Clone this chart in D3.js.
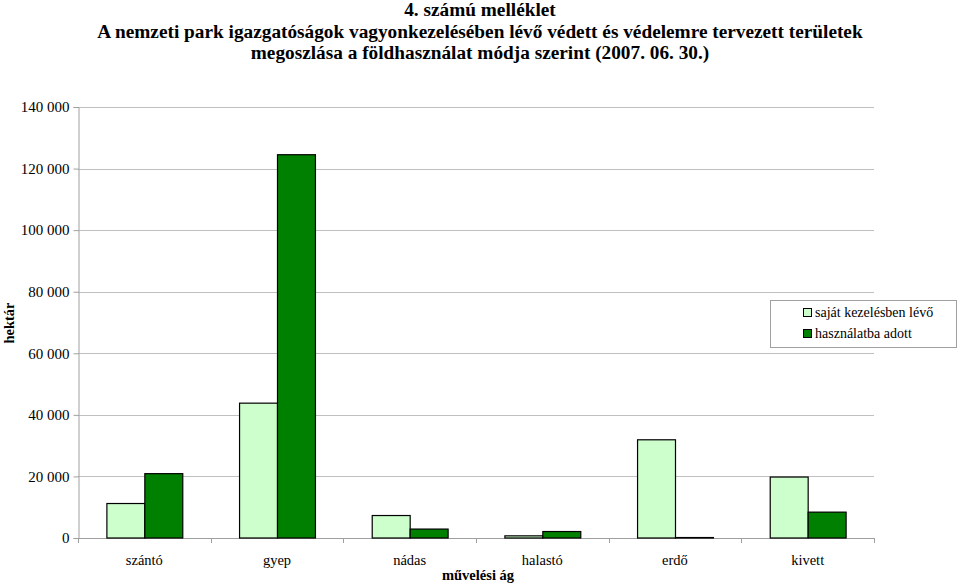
<!DOCTYPE html>
<html><head><meta charset="utf-8">
<script src="https://cdn.jsdelivr.net/npm/d3@7"></script>
<style>body{margin:0;background:#fff;} svg{display:block;} svg text{font-family:"Liberation Serif","Tinos","Times New Roman","DejaVu Serif",serif;}</style>
</head><body>
<svg id="c" width="959" height="585"></svg>
<script>
const titleLines = ["4. számú melléklet",
  "A nemzeti park igazgatóságok vagyonkezelésében lévő védett és védelemre tervezett területek",
  "megoszlása a földhasználat módja szerint (2007. 06. 30.)"];
const categories = ["szántó","gyep","nádas","halastó","erdő","kivett"];
const seriesNames = ["saját kezelésben lévő","használatba adott"];
const ownValues = [11200, 43800, 7300, 700, 31900, 19800];
const leasedValues = [20900, 124500, 2900, 2100, 150, 8400];
const yTicks = [0,20000,40000,60000,80000,100000,120000,140000];
const colors = ["#ccffcc","#008000"];
const yTitle = "hektár", xTitle = "művelési ág";

const svg = d3.select("#c");
const m = {l:78, r:874, t:107, b:538};
const x = d3.scaleBand().domain(categories).range([m.l, m.r]);
const y = d3.scaleLinear().domain([0,140000]).range([m.b, m.t]);
const fmt = v => d3.format(",")(v).replace(/,/g, "\u00a0");

// title
svg.append("g").selectAll("text").data(titleLines).join("text")
  .attr("x", 480).attr("y", (d,i)=>16+i*21.5).attr("text-anchor","middle")
  .attr("font-weight","bold").attr("font-size", 19.3)
  .text(d=>d);

// gridlines
svg.append("g").selectAll("line").data(yTicks.slice(1)).join("line")
  .attr("x1", m.l).attr("x2", m.r).attr("y1", d=>Math.round(y(d))+0.5).attr("y2", d=>Math.round(y(d))+0.5)
  .attr("stroke","#c0c0c0").attr("stroke-width",1);

// y axis
const ya = d3.axisLeft(y).tickValues(yTicks).tickFormat(fmt).tickSize(5).tickPadding(4);
const yg = svg.append("g").attr("transform",`translate(${m.l+0.5},0)`).call(ya);
yg.attr("font-family", null);
yg.select(".domain").attr("stroke","#a0a0a0");
yg.selectAll(".tick line").attr("stroke","#a0a0a0");
yg.selectAll(".tick text").attr("font-size",15).attr("fill","#000");

// x axis
const xa = svg.append("g");
xa.append("line").attr("x1",m.l).attr("x2",m.r).attr("y1",m.b+0.5).attr("y2",m.b+0.5).attr("stroke","#a0a0a0");
xa.selectAll("line.t").data(d3.range(categories.length+1)).join("line").attr("class","t")
  .attr("x1",i=>Math.round(m.l+i*x.step())+0.5).attr("x2",i=>Math.round(m.l+i*x.step())+0.5)
  .attr("y1",m.b).attr("y2",m.b+5).attr("stroke","#a0a0a0");
xa.selectAll("text").data(categories).join("text")
  .attr("x",d=>x(d)+x.bandwidth()/2).attr("y",565).attr("text-anchor","middle")
  .attr("font-size",14.5).text(d=>d);

// bars
const gw = x.bandwidth()*0.572, bw = gw/2;
const series = [ownValues, leasedValues];
series.forEach((vals,si)=>{
  svg.append("g").selectAll("rect").data(categories).join("rect")
    .attr("x",(d,i)=>x(d)+x.bandwidth()/2 - gw/2 + si*bw + 0.5)
    .attr("width",bw)
    .attr("y",(d,i)=>y(vals[i]))
    .attr("height",(d,i)=>m.b - y(vals[i]))
    .attr("fill",colors[si]).attr("stroke","#000").attr("stroke-width",1.2);
});

// axis titles
svg.append("text").attr("transform","translate(14,323) rotate(-90)").attr("text-anchor","middle")
  .attr("font-weight","bold").attr("font-size",14.5).text(yTitle);
svg.append("text").attr("x",478).attr("y",580).attr("text-anchor","middle")
  .attr("font-weight","bold").attr("font-size",14.5).text(xTitle);

// legend
const lg = svg.append("g");
lg.append("rect").attr("x",770.5).attr("y",300.5).attr("width",186).attr("height",47)
  .attr("fill","#fff").attr("stroke","#a0a0a0");
seriesNames.forEach((n,i)=>{
  lg.append("rect").attr("x",803.5).attr("y",308.5+i*21).attr("width",8).attr("height",8)
    .attr("fill",colors[i]).attr("stroke","#000");
  lg.append("text").attr("x",815).attr("y",317+i*21).attr("font-size",14)
    .text(n);
});
</script>
</body></html>
